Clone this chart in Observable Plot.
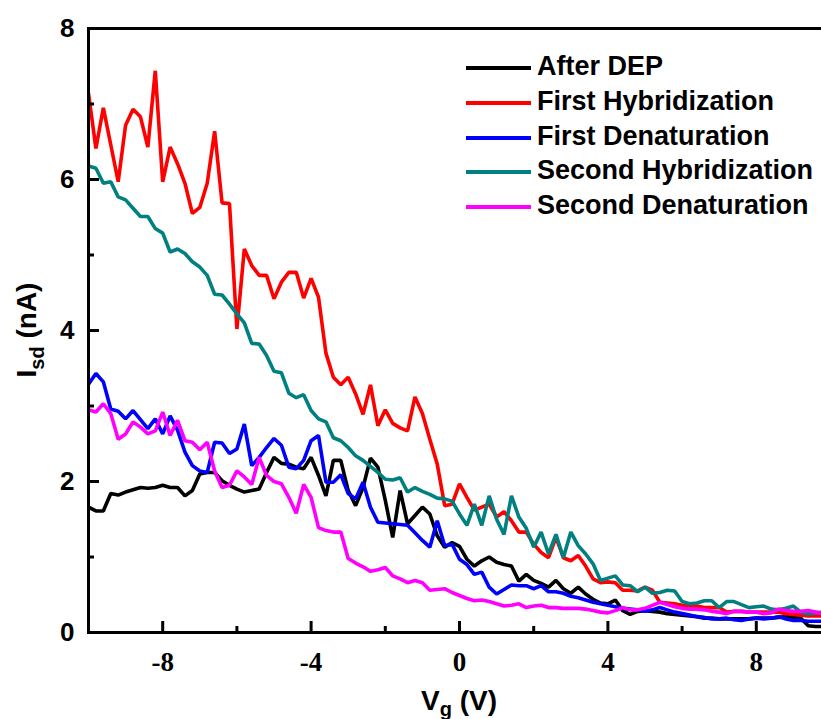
<!DOCTYPE html>
<html><head><meta charset="utf-8">
<script src="https://cdn.jsdelivr.net/npm/d3@7"></script>
<script src="https://cdn.jsdelivr.net/npm/@observablehq/plot@0.6"></script>
<style>
html,body{margin:0;padding:0;background:#fff;overflow:hidden;}
#wrap{position:relative;width:821px;height:719px;overflow:hidden;}
#wrap svg{overflow:hidden;}
.legend{position:absolute;left:0;top:0;font:bold 27px "Liberation Sans",Arial,sans-serif;color:#000;}
.legend .row{position:absolute;white-space:nowrap;height:34px;}
.legend .sw{position:absolute;left:0;top:16px;width:65px;height:4px;}
.legend .lb{position:absolute;left:71px;top:1px;line-height:31px;}
</style></head><body><div id="wrap"></div>
<script>
const seriesNames = ["After DEP","First Hybridization","First Denaturation","Second Hybridization","Second Denaturation"];
const seriesColors = ["#000000","#ff0000","#0000ff","#008080","#ff00ff"];

const vg = [-10,-9.8,-9.6,-9.4,-9.2,-9,-8.8,-8.6,-8.4,-8.2,
  -8,-7.8,-7.6,-7.4,-7.2,-7,-6.8,-6.6,-6.4,-6.2,
  -6,-5.8,-5.6,-5.4,-5.2,-5,-4.8,-4.6,-4.4,-4.2,
  -4,-3.8,-3.6,-3.4,-3.2,-3,-2.8,-2.6,-2.4,-2.2,
  -2,-1.8,-1.6,-1.4,-1.2,-1,-0.8,-0.6,-0.4,-0.2,
  0,0.2,0.4,0.6,0.8,1,1.2,1.4,1.6,1.8,
  2,2.2,2.4,2.6,2.8,3,3.2,3.4,3.6,3.8,
  4,4.2,4.4,4.6,4.8,5,5.2,5.4,5.6,5.8,
  6,6.2,6.4,6.6,6.8,7,7.2,7.4,7.6,7.8,
  8,8.2,8.4,8.6,8.8,9,9.2,9.4,9.6,9.8,
  10];

const afterDEP = [1.66,1.61,1.61,1.84,1.82,1.86,1.89,1.92,1.91,1.92,
  1.95,1.92,1.92,1.81,1.88,2.10,2.12,2.12,2.01,1.95,
  1.90,1.86,1.88,1.90,2.12,2.32,2.24,2.23,2.19,2.17,
  2.32,2.08,1.81,2.28,2.28,1.88,1.68,1.92,2.31,2.19,
  1.75,1.26,1.88,1.44,1.55,1.66,1.57,1.28,1.13,1.19,
  1.14,0.97,0.88,0.95,1.00,0.93,0.90,0.88,0.68,0.77,
  0.69,0.65,0.60,0.69,0.58,0.52,0.60,0.51,0.44,0.39,
  0.38,0.43,0.29,0.24,0.28,0.29,0.28,0.27,0.25,0.24,
  0.23,0.22,0.21,0.19,0.19,0.18,0.18,0.18,0.18,0.18,
  0.19,0.19,0.19,0.20,0.21,0.20,0.19,0.09,0.08,0.08,
  0.08];

const firstHyb = [7.14,6.41,6.95,6.46,5.97,6.72,6.93,6.83,6.43,7.44,
  5.97,6.43,6.21,5.95,5.55,5.63,5.95,6.64,5.69,5.68,
  4.02,5.08,4.86,4.73,4.73,4.42,4.64,4.77,4.77,4.43,
  4.69,4.44,3.70,3.38,3.28,3.38,3.16,2.89,3.28,2.74,
  2.95,2.77,2.71,2.67,3.12,2.90,2.56,2.23,1.68,1.70,
  1.97,1.79,1.62,1.66,1.70,1.53,1.60,1.48,1.33,1.33,
  1.17,1.06,0.99,1.26,0.99,0.95,1.02,0.88,0.71,0.66,
  0.67,0.66,0.56,0.56,0.55,0.60,0.56,0.40,0.39,0.38,
  0.36,0.35,0.35,0.33,0.33,0.33,0.27,0.28,0.28,0.27,
  0.27,0.27,0.27,0.27,0.25,0.24,0.23,0.22,0.22,0.22,
  0.21];

const firstDen = [3.29,3.43,3.32,2.96,2.93,2.83,2.94,2.82,2.70,2.83,
  2.63,2.87,2.68,2.39,2.21,2.14,2.12,2.52,2.51,2.37,
  2.43,2.76,2.21,2.32,2.45,2.57,2.48,2.19,2.17,2.28,
  2.54,2.61,1.99,1.99,2.09,1.84,1.77,1.99,1.66,1.46,
  1.45,1.44,1.43,1.42,1.32,1.22,1.13,1.48,1.15,1.17,
  0.97,0.90,0.77,0.80,0.60,0.51,0.57,0.63,0.62,0.62,
  0.58,0.62,0.54,0.54,0.52,0.48,0.46,0.43,0.40,0.38,
  0.36,0.34,0.32,0.31,0.30,0.28,0.30,0.33,0.30,0.27,
  0.25,0.23,0.21,0.20,0.18,0.18,0.19,0.17,0.16,0.18,
  0.19,0.18,0.19,0.21,0.18,0.16,0.16,0.15,0.15,0.15,
  0.14];

const secondHyb = [6.18,6.15,5.95,5.97,5.77,5.73,5.62,5.51,5.51,5.35,
  5.29,5.04,5.08,5.02,4.91,4.84,4.73,4.48,4.47,4.35,
  4.22,4.10,3.83,3.82,3.67,3.46,3.44,3.17,3.11,3.15,
  2.94,2.83,2.79,2.58,2.54,2.45,2.34,2.28,2.20,2.12,
  2.03,2.02,2.05,1.86,1.92,1.87,1.83,1.78,1.77,1.74,
  1.57,1.42,1.70,1.42,1.81,1.50,1.30,1.81,1.53,1.38,
  1.13,1.33,1.04,1.30,0.99,1.33,1.15,1.04,0.91,0.69,
  0.72,0.75,0.63,0.62,0.54,0.60,0.52,0.53,0.56,0.55,
  0.41,0.38,0.39,0.42,0.42,0.33,0.41,0.41,0.37,0.33,
  0.34,0.35,0.31,0.30,0.32,0.35,0.27,0.25,0.26,0.27,
  0.25];

const secondDen = [2.95,2.92,3.03,2.90,2.56,2.63,2.79,2.72,2.63,2.67,
  2.92,2.61,2.81,2.54,2.52,2.42,2.52,2.14,1.92,1.95,
  2.14,2.06,1.96,2.32,2.08,2.00,1.97,1.79,1.58,1.96,
  1.79,1.39,1.35,1.33,1.33,0.98,0.92,0.87,0.81,0.83,
  0.86,0.75,0.71,0.66,0.69,0.66,0.56,0.57,0.58,0.53,
  0.49,0.45,0.42,0.43,0.41,0.38,0.35,0.36,0.38,0.33,
  0.35,0.36,0.33,0.33,0.32,0.32,0.32,0.31,0.29,0.27,
  0.26,0.29,0.33,0.30,0.30,0.32,0.36,0.40,0.37,0.34,
  0.32,0.31,0.31,0.30,0.28,0.27,0.25,0.28,0.28,0.27,
  0.27,0.25,0.26,0.31,0.29,0.28,0.28,0.29,0.27,0.25,
  0.24];

const xMajorTicks = [-8,-4,0,4,8];
const xMinorTicks = [-6,-2,2,6];
const yMajorTicks = [0,2,4,6,8];
const yMinorTicks = [1,3,5,7];

const seriesValues = [afterDEP, firstHyb, firstDen, secondHyb, secondDen];
const rows = [];
seriesNames.forEach((name, i) => {
  seriesValues[i].forEach((v, j) => rows.push({series: name, x: vg[j], y: v}));
});

const sans = "'Liberation Sans', Arial, sans-serif";
const serif = "'Liberation Serif', 'Times New Roman', serif";

const chart = Plot.plot({
  width: 821,
  height: 719,
  marginLeft: 88,
  marginTop: 28,
  marginRight: -9,
  marginBottom: 87,
  style: {background: "#fff", overflow: "hidden"},
  x: {domain: [-10, 10]},
  y: {domain: [0, 8]},
  color: {domain: seriesNames, range: seriesColors},
  marks: [
    Plot.line(rows, {x: "x", y: "y", z: "series", stroke: "series", strokeWidth: 3.6, strokeLinejoin: "miter", clip: true}),
    Plot.frame({strokeWidth: 3}),
    Plot.axisX(xMajorTicks, {anchor: "bottom", tickSize: -11, tickPadding: 30, strokeWidth: 3, tickFormat: d => String(d), fontSize: 27, fontWeight: "bold", fontFamily: serif, label: null}),
    Plot.axisX(xMinorTicks, {anchor: "bottom", tickSize: -6, strokeWidth: 3, tickFormat: () => "", label: null}),
    Plot.axisY(yMajorTicks, {anchor: "left", tickSize: -11, tickPadding: 25, strokeWidth: 3, tickFormat: d => String(d), fontSize: 26, fontWeight: "bold", fontFamily: sans, label: null}),
    Plot.axisY(yMinorTicks, {anchor: "left", tickSize: -6, strokeWidth: 3, tickFormat: () => "", label: null})
  ]
});

const wrap = document.getElementById("wrap");
wrap.appendChild(chart);

const svg = d3.select(chart);
// y axis title
const yt = svg.append("text")
  .attr("transform", "translate(36,330) rotate(-90)")
  .attr("text-anchor", "middle")
  .attr("font-family", sans).attr("font-weight", "bold").attr("font-size", 28)
  .attr("fill", "#000");
yt.append("tspan").text("I");
yt.append("tspan").attr("font-size", 20).attr("dy", 8).text("sd");
yt.append("tspan").attr("dy", -8).text(" (nA)");
// x axis title
const xt = svg.append("text")
  .attr("transform", "translate(459,710)")
  .attr("text-anchor", "middle")
  .attr("font-family", sans).attr("font-weight", "bold").attr("font-size", 28)
  .attr("fill", "#000");
xt.append("tspan").text("V");
xt.append("tspan").attr("font-size", 20).attr("dy", 6).text("g");
xt.append("tspan").attr("dy", -6).text(" (V)");

// legend
const legend = document.createElement("div");
legend.className = "legend";
seriesNames.forEach((name, i) => {
  const row = document.createElement("div");
  row.className = "row";
  row.style.left = "466px";
  row.style.top = (50 + i * 34.8) + "px";
  const sw = document.createElement("div");
  sw.className = "sw";
  sw.style.background = seriesColors[i];
  const lb = document.createElement("div");
  lb.className = "lb";
  lb.textContent = name;
  row.appendChild(sw); row.appendChild(lb);
  legend.appendChild(row);
});
wrap.appendChild(legend);
</script>
</body></html>
